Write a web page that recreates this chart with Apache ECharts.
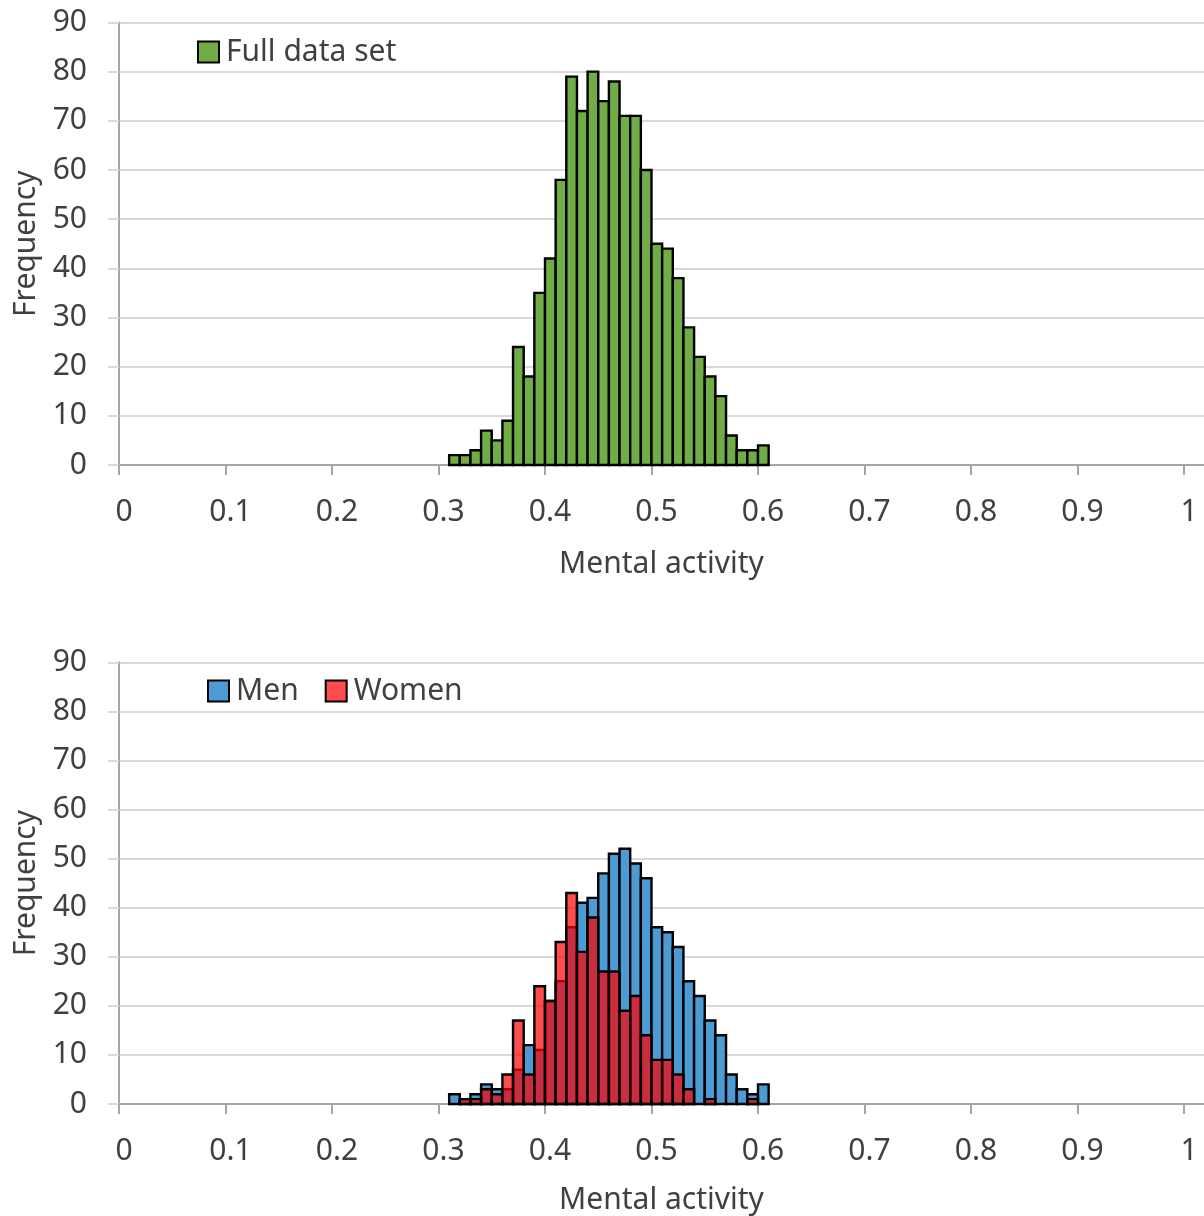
<!DOCTYPE html>
<html>
<head>
<meta charset="utf-8">
<script src="https://cdn.jsdelivr.net/npm/echarts@6/dist/echarts.min.js"></script>
<style>
  html, body { margin: 0; padding: 0; background: #ffffff; }
  #chart { width: 1204px; height: 1216px; }
</style>
</head>
<body>
<div id="chart"></div>
<script>
// Lower edge of each mental-activity bin (bins are 0.01 wide)
const binStarts = [0.31, 0.32, 0.33, 0.34, 0.35, 0.36, 0.37, 0.38, 0.39, 0.40,
                   0.41, 0.42, 0.43, 0.44, 0.45, 0.46, 0.47, 0.48, 0.49, 0.50,
                   0.51, 0.52, 0.53, 0.54, 0.55, 0.56, 0.57, 0.58, 0.59, 0.60];
const binWidth = 0.01;

// Frequencies per bin
const fullCounts  = [2, 2, 3, 7, 5, 9, 24, 18, 35, 42, 58, 79, 72, 80, 74, 78, 71, 71, 60, 45, 44, 38, 28, 22, 18, 14, 6, 3, 3, 4];
const menCounts   = [2, 1, 2, 4, 3, 3, 7, 12, 11, 21, 25, 36, 41, 42, 47, 51, 52, 49, 46, 36, 35, 32, 25, 22, 17, 14, 6, 3, 2, 4];
const womenCounts = [0, 1, 1, 3, 2, 6, 17, 6, 24, 21, 33, 43, 31, 38, 27, 27, 19, 22, 14, 9, 9, 6, 3, 0, 1, 0, 0, 0, 1, 0];

const FONT = '"Noto Sans", "Liberation Sans", sans-serif';
const TEXT = '#404040';
const GRID_LINE = '#d9d9d9';
const AXIS_LINE = '#a6a6a6';

const GREEN = '#70ad47';
const BLUE = '#4c9bd5';
const RED = 'rgba(255, 0, 0, 0.7)';

function toBins(counts) {
  return binStarts.map((x0, i) => [x0, x0 + binWidth, counts[i]]);
}

// Each bin is a rectangle spanning [x0, x1] horizontally and [0, count] vertically
function renderBin(params, api) {
  const x0 = api.value(0), x1 = api.value(1), n = api.value(2);
  if (!n) return null;
  const topLeft = api.coord([x0, n]);
  const bottomRight = api.coord([x1, 0]);
  return {
    type: 'rect',
    shape: {
      x: topLeft[0],
      y: topLeft[1],
      width: bottomRight[0] - topLeft[0],
      height: bottomRight[1] - topLeft[1]
    },
    style: { fill: api.visual('color'), stroke: '#000000', lineWidth: 2.4 }
  };
}

function histSeries(name, counts, color, axisIndex) {
  return {
    type: 'custom',
    name: name,
    xAxisIndex: axisIndex,
    yAxisIndex: axisIndex,
    data: toBins(counts),
    encode: { x: [0, 1], y: 2 },
    itemStyle: { color: color },
    renderItem: renderBin,
    silent: true
  };
}

function xAxisFor(gridIndex, nameGap) {
  return {
    type: 'value',
    gridIndex: gridIndex,
    min: 0,
    max: 1085 / 1065,
    interval: 0.1,
    name: 'Mental activity',
    nameLocation: 'middle',
    nameGap: nameGap,
    nameTextStyle: { fontSize: 30, color: TEXT, fontFamily: FONT },
    axisLine: { show: true, lineStyle: { color: AXIS_LINE, width: 2 } },
    axisTick: { show: true, length: 10, lineStyle: { color: AXIS_LINE, width: 2 } },
    axisLabel: {
      fontSize: 30, color: TEXT, fontFamily: FONT, margin: 32,
      padding: [0, 0, 0, 10],
      showMaxLabel: false,
      formatter: v => (v > 1.0001 ? '' : String(Math.round(v * 10) / 10))
    },
    splitLine: { show: false }
  };
}

function yAxisFor(gridIndex) {
  return {
    type: 'value',
    gridIndex: gridIndex,
    min: 0,
    max: 90,
    interval: 10,
    name: 'Frequency',
    nameLocation: 'middle',
    nameGap: 78,
    nameTextStyle: { fontSize: 30, color: TEXT, fontFamily: FONT },
    axisLine: { show: true, lineStyle: { color: AXIS_LINE, width: 2 } },
    axisTick: { show: true, length: 11, lineStyle: { color: GRID_LINE, width: 2 } },
    axisLabel: { fontSize: 30, color: TEXT, fontFamily: FONT, margin: 32 },
    splitLine: { show: true, lineStyle: { color: GRID_LINE, width: 2 } }
  };
}

const legendText = { fontSize: 30, color: TEXT, fontFamily: FONT, padding: [0, 0, 0, 2] };

const option = {
  backgroundColor: '#ffffff',
  animation: false,
  textStyle: { fontFamily: FONT },
  grid: [
    { left: 119, right: 0, top: 22.5, height: 442.5 },
    { left: 119, right: 0, top: 662.3, height: 442.4 }
  ],
  xAxis: [xAxisFor(0, 84), xAxisFor(1, 81)],
  yAxis: [yAxisFor(0), yAxisFor(1)],
  legend: [
    {
      left: 197, top: 37, padding: 0,
      icon: 'rect', itemWidth: 21, itemHeight: 21,
      selectedMode: false,
      textStyle: legendText,
      data: [{ name: 'Full data set', itemStyle: { color: GREEN, borderColor: '#000', borderWidth: 2 } }]
    },
    {
      left: 207, top: 676, padding: 0, itemGap: 26,
      icon: 'rect', itemWidth: 21, itemHeight: 21,
      selectedMode: false,
      textStyle: legendText,
      data: [
        { name: 'Men', itemStyle: { color: BLUE, borderColor: '#000', borderWidth: 2 } },
        { name: 'Women', itemStyle: { color: RED, borderColor: '#000', borderWidth: 2 } }
      ]
    }
  ],
  series: [
    histSeries('Full data set', fullCounts, GREEN, 0),
    histSeries('Men', menCounts, BLUE, 1),
    histSeries('Women', womenCounts, RED, 1)
  ]
};

const chart = echarts.init(document.getElementById('chart'), null, { renderer: 'canvas' });
chart.setOption(option);
</script>
</body>
</html>
